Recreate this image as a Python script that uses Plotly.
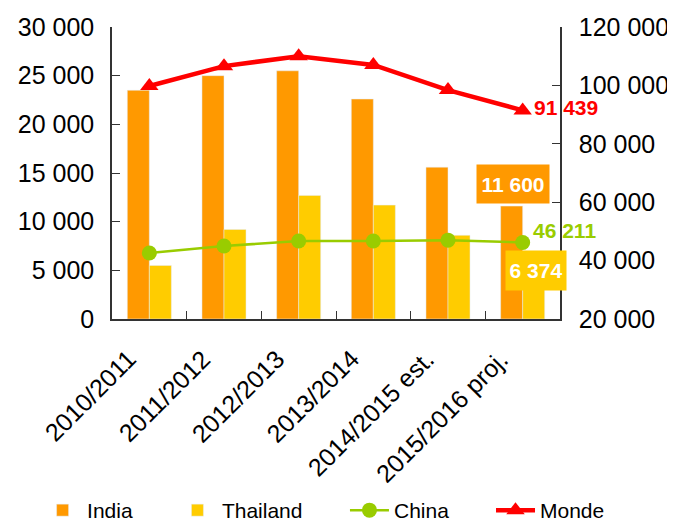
import plotly.graph_objects as go

categories = ["2010/2011", "2011/2012", "2012/2013", "2013/2014", "2014/2015 est.", "2015/2016 proj."]
india = [23500, 25000, 25500, 22600, 15600, 11600]
thailand = [5500, 9200, 12700, 11700, 8600, 6374]
china = [42600, 45000, 46700, 46700, 47000, 46211]
monde = [99800, 106600, 110000, 107000, 98400, 91439]

left_ticks = [0, 5000, 10000, 15000, 20000, 25000, 30000]
right_ticks = [20000, 40000, 60000, 80000, 100000, 120000]

def fmt(v):
    return f"{v:,}".replace(",", " ")

FONT = "Liberation Sans, Arial, sans-serif"

fig = go.Figure()
fig.add_trace(go.Bar(x=categories, y=india, name="India", marker_color="#FF9900", legend="legend"))
fig.add_trace(go.Bar(x=categories, y=thailand, name="Thailand", marker_color="#FFCC00", legend="legend2"))
fig.add_trace(go.Scatter(x=categories, y=china, name="China", yaxis="y2", mode="lines+markers",
                         line=dict(color="#99CC00", width=2.5),
                         marker=dict(symbol="circle", size=15, color="#99CC00"), legend="legend3"))
fig.add_trace(go.Scatter(x=categories, y=monde, name="Monde", yaxis="y2", mode="lines+markers",
                         line=dict(color="#FF0000", width=4.5),
                         marker=dict(symbol="triangle-up", size=16, color="#FF0000"), legend="legend4"))

annotations = [
    dict(x=categories[-1], y=monde[-1], xref="x", yref="y2", text=f"<b>{fmt(monde[-1])}</b>",
         showarrow=False, xanchor="left", xshift=9, yshift=3,
         font=dict(color="#FF0000", size=21, family=FONT)),
    dict(x=categories[-1], y=china[-1], xref="x", yref="y2", text=f"<b>{fmt(china[-1])}</b>",
         showarrow=False, xanchor="left", xshift=8, yshift=12,
         font=dict(color="#99CC00", size=21, family=FONT)),
    dict(x=categories[-1], y=india[-1], xref="x", yref="y", text=f"<b>{fmt(india[-1])}</b>",
         showarrow=False, xanchor="center", yanchor="bottom", xshift=-10, yshift=2,
         bgcolor="#FF9900", borderpad=0, width=72, height=38,
         font=dict(color="white", size=21, family=FONT)),
    dict(x=categories[-1], y=thailand[-1], xref="x", yref="y", text=f"<b>{fmt(thailand[-1])}</b>",
         showarrow=False, xanchor="center", yanchor="middle", xshift=13, yshift=-14,
         bgcolor="#FFCC00", borderpad=0, width=60, height=39,
         font=dict(color="white", size=21, family=FONT)),
]
for c in categories:
    annotations.append(dict(x=c, y=0, xref="x", yref="y", text=c, textangle=-45,
                            showarrow=False, xanchor="right", yanchor="top",
                            xshift=-6, yshift=-23,
                            font=dict(color="black", size=25, family=FONT)))

def leg(x):
    return dict(orientation="h", x=x, y=0.0, xref="paper", yref="container",
                xanchor="left", yanchor="bottom", bgcolor="rgba(0,0,0,0)",
                font=dict(size=21, family=FONT), itemwidth=39)

fig.update_layout(
    width=667, height=523,
    margin=dict(l=104, r=115, t=19, b=212),
    paper_bgcolor="white", plot_bgcolor="white",
    barmode="group", bargap=0.41, bargroupgap=0,
    font=dict(family=FONT, size=25, color="black"),
    showlegend=True,
    legend=leg(-0.165), legend2=leg(0.136), legend3=leg(0.52), legend4=leg(0.846),
    xaxis=dict(type="category", range=[-0.5, 5.5], showticklabels=False,
               tickson="boundaries", ticks="inside", ticklen=8,
               showline=True, linecolor="#333333", linewidth=1.5, tickcolor="#333333",
               showgrid=False, automargin=False),
    yaxis=dict(range=[0, 30000], tickvals=left_ticks, ticktext=[fmt(v) for v in left_ticks],
               ticks="inside", ticklen=8, showline=True, linecolor="#333333", linewidth=1.5,
               tickcolor="#333333", showgrid=False, zeroline=False, tickfont=dict(size=25),
               automargin=False, ticklabelstandoff=11),
    yaxis2=dict(range=[20000, 120000], tickvals=right_ticks, ticktext=[fmt(v) for v in right_ticks],
                overlaying="y", side="right", ticks="inside", ticklen=8, showline=True,
                linecolor="#333333", linewidth=1.5, tickcolor="#333333", showgrid=False,
                zeroline=False, tickfont=dict(size=25), automargin=False, ticklabelstandoff=12),
    annotations=annotations,
)

fig.write_html("out.html")
